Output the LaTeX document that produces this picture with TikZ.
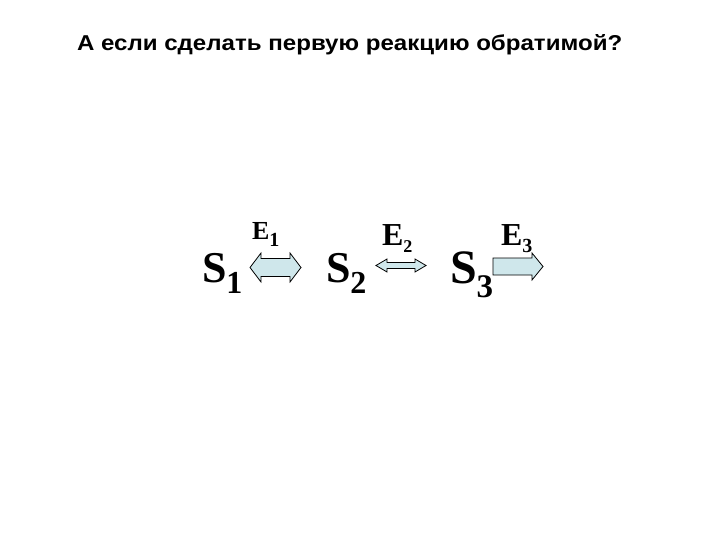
\documentclass[tikz,border=0pt]{standalone}
\usepackage{fontspec}
\setmainfont{Liberation Serif}
\newfontfamily\serifont{Liberation Serif}
\newfontfamily\titlefont{Liberation Sans}
\definecolor{arrowfill}{HTML}{CFE7EB}
\begin{document}
\begin{tikzpicture}[x=1pt,y=-1pt,
  lbl/.style={anchor=base west,inner sep=0pt,outer sep=0pt},
  arr/.style={draw=black,line width=0.8pt,fill=arrowfill,line join=miter}]
\useasboundingbox (0,0) rectangle (720,540);
\node[lbl] (title) at (77,51) {\scalebox{1.12}[1]{\titlefont\bfseries\fontsize{21.5}{24}\selectfont А если сделать первую реакцию обратимой?}};
% substrates
\node[lbl] (s1) at (202,282) {\serifont\fontsize{44}{44}\selectfont\bfseries S\raisebox{-11pt}{\fontsize{32}{32}\selectfont 1}};
\node[lbl] (s2) at (326,282) {\serifont\fontsize{44}{44}\selectfont\bfseries S\raisebox{-11pt}{\fontsize{32}{32}\selectfont 2}};
\node[lbl] (s3) at (450,283) {\serifont\fontsize{48}{48}\selectfont\bfseries S\raisebox{-14pt}{\fontsize{33}{33}\selectfont 3}};
% enzymes
\node[lbl] (e1) at (252,240) {\serifont\fontsize{26}{26}\selectfont\bfseries E\raisebox{-7pt}{\fontsize{20}{20}\selectfont 1}};
\node[lbl] (e2) at (382,245) {\serifont\fontsize{32}{32}\selectfont\bfseries E\raisebox{-7pt}{\fontsize{18}{18}\selectfont 2}};
\node[lbl] (e3) at (501,245) {\serifont\fontsize{32}{32}\selectfont\bfseries E\raisebox{-7pt}{\fontsize{20}{20}\selectfont 3}};
% arrows
\draw[arr] (250,267.5) -- (261,253) -- (261,258.5) -- (290,258.5) -- (290,253) -- (301,267.5)
  -- (290,282) -- (290,276.5) -- (261,276.5) -- (261,282) -- cycle;
\draw[arr] (376,265.5) -- (387,259) -- (387,262.5) -- (415,262.5) -- (415,259) -- (426,265.5)
  -- (415,272) -- (415,268.5) -- (387,268.5) -- (387,272) -- cycle;
\draw[arr] (493,258) -- (532,258) -- (532,253) -- (543,266.5) -- (532,280) -- (532,275) -- (493,275) -- cycle;
\end{tikzpicture}
\end{document}
